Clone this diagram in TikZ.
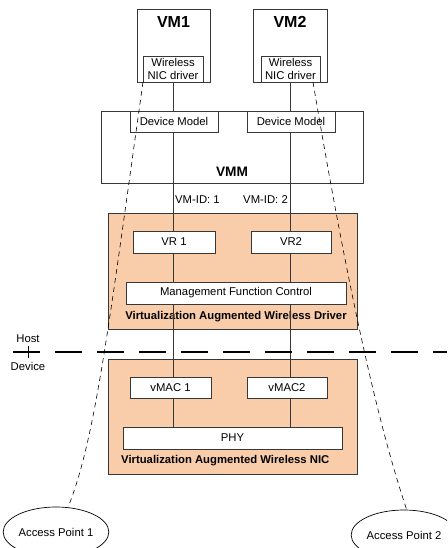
\documentclass[tikz,border=0pt]{standalone}
\usepackage{fontspec}
\setmainfont{Liberation Sans}
\usetikzlibrary{shapes.geometric,calc}
\definecolor{orng}{RGB}{250,205,170}
\definecolor{edge}{RGB}{55,55,55}
\begin{document}
\begin{tikzpicture}[x=1pt,y=-1pt,
 every node/.style={font=\fontsize{11.3}{13.5}\selectfont},
 box/.style={draw=edge, line width=0.8pt, fill=white, inner sep=0pt, outer sep=0pt, rectangle},
 orangebox/.style={box, fill=orng},
 lbl/.style={inner sep=0pt},
 boldlbl/.style={inner sep=0pt, font=\fontsize{11.3}{13.5}\selectfont\bfseries},
 biglbl/.style={inner sep=0pt, font=\fontsize{16}{18}\selectfont\bfseries},
 midlbl/.style={inner sep=0pt, font=\fontsize{13.7}{16}\selectfont\bfseries},
 wire/.style={draw=edge, line width=0.8pt},
 beam/.style={draw=black, line width=0.6pt, dash pattern=on 5pt off 4pt},
 divider/.style={draw=black, line width=1.8pt, dash pattern=on 27pt off 15pt},
 ap/.style={draw=black, line width=0.7pt, ellipse, fill=white, inner sep=0pt}]
\useasboundingbox (0,0) rectangle (447,548);
\clip (0,0) rectangle (447,548);

% VMs
\node[box, minimum width=73pt, minimum height=73pt] (vm1) at (173.5,45.5) {};
\node[box, minimum width=74pt, minimum height=73pt] (vm2) at (290,45.5) {};
\node[biglbl] (vm1l) at (173.5,22) {VM1};
\node[biglbl] (vm2l) at (290,22) {VM2};
\node[box, minimum width=60pt, minimum height=26pt, align=center] (nic1) at (173,69) {Wireless\\NIC driver};
\node[box, minimum width=59pt, minimum height=26pt, align=center] (nic2) at (290.5,69) {Wireless\\NIC driver};

% VMM
\node[box, minimum width=262pt, minimum height=72pt] (vmm) at (232,147) {};
\node[midlbl] (vmml) at (232,172) {VMM};

% Driver and NIC containers
\node[orangebox, minimum width=249pt, minimum height=116pt] (drv) at (232.5,271) {};
\node[boldlbl] (drvl) at (236,317) {Virtualization Augmented Wireless Driver};
\node[orangebox, minimum width=249pt, minimum height=115pt] (wnic) at (232.5,416.5) {};
\node[boldlbl, anchor=west] (wnicl) at (121,461) {Virtualization Augmented Wireless NIC};

% PHY (needed as end of lines)
\node[box, minimum width=219pt, minimum height=22pt] (phy) at (232.5,438) {PHY};

% vertical links
\draw[wire] (nic1.south) -- (nic1.south |- phy.north);
\draw[wire] (nic2.south) -- (nic2.south |- phy.north);

% inner boxes
\node[box, minimum width=88pt, minimum height=21pt] (dm1) at (174,121.5) {Device Model};
\node[box, minimum width=88pt, minimum height=21pt] (dm2) at (291,121.5) {Device Model};
\node[lbl, anchor=west] (id1) at (175,200) {VM-ID: 1};
\node[lbl, anchor=east] (id2) at (288,200) {VM-ID: 2};
\node[box, minimum width=82pt, minimum height=22pt] (vr1) at (174,242) {VR 1};
\node[box, minimum width=80pt, minimum height=22pt] (vr2) at (291,242) {VR2};
\node[box, minimum width=220pt, minimum height=22pt] (mfc) at (236,293) {Management Function Control};
\node[box, minimum width=81pt, minimum height=21pt] (mac1) at (170.5,387.5) {vMAC 1};
\node[box, minimum width=80pt, minimum height=21pt] (mac2) at (287,387.5) {vMAC2};

% Host / Device divider
\coordinate (divl) at (13,352);
\coordinate (divr) at (447,352);
\draw[divider] (divl) -- (divr);
\coordinate (tickt) at (28,346);
\coordinate (tickb) at (28,358);
\draw[draw=black, line width=0.7pt] (tickt) -- (tickb);
\node[lbl] (host) at (28,339) {Host};
\node[lbl] (dev) at (28,366) {Device};

% access points
\node[ap, minimum width=96pt, minimum height=50pt] (ap1) at (56,532) {Access Point 1};
\node[ap, minimum width=84pt, minimum height=50pt] (ap2) at (404,535) {Access Point 2};

% wireless beams
\coordinate (b2s) at ($(nic2.south east)+(-7,0)$);
\draw[beam] (nic1.south west) .. controls (108,332) and (95,440) .. (ap1.64);
\draw[beam] (b2s) .. controls (355,332) and (385,445) .. (ap2.84);
\end{tikzpicture}
\end{document}
